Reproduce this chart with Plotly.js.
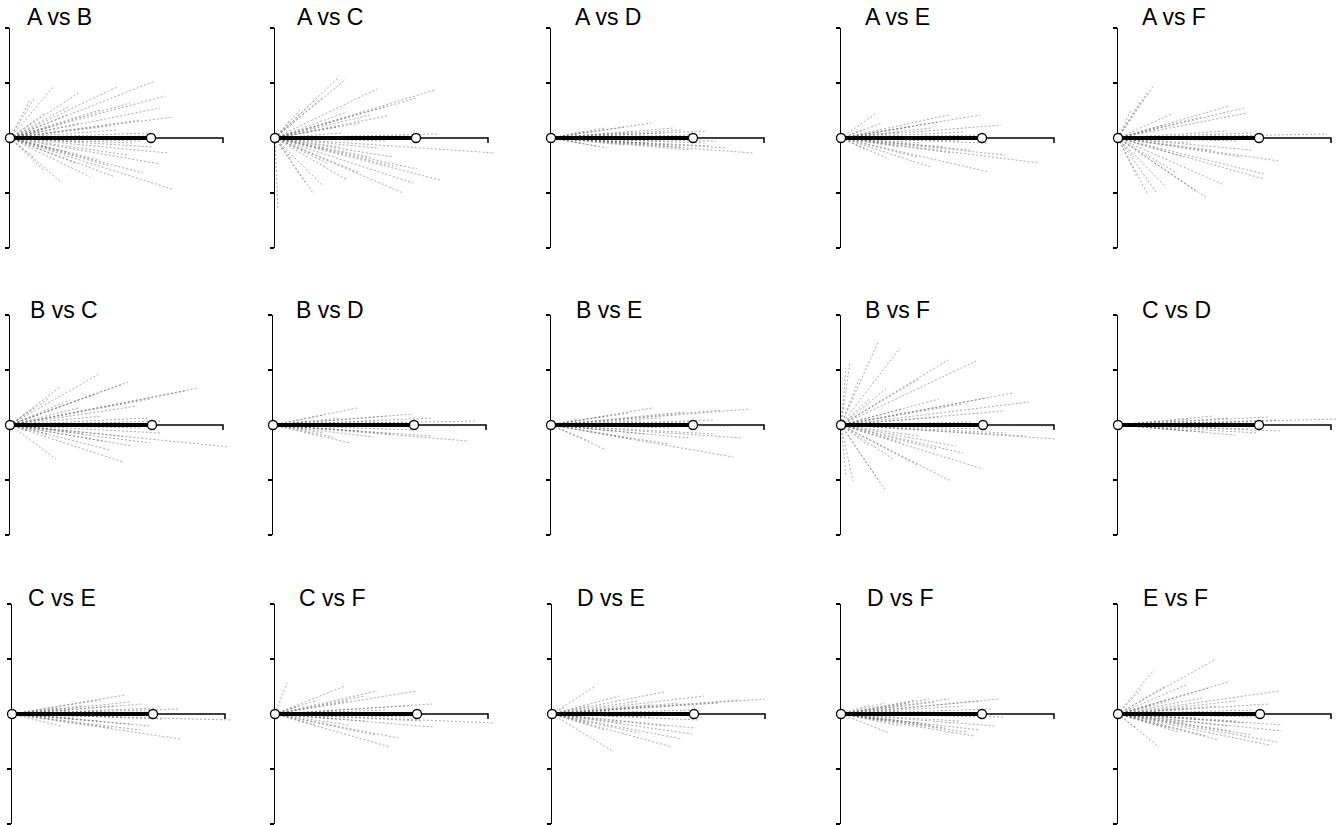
<!DOCTYPE html>
<html>
<head>
<meta charset="utf-8">
<script src="https://cdn.plot.ly/plotly-3.0.1.min.js"></script>
<style>html,body{margin:0;padding:0;background:#fff;}#chart{width:1340px;height:825px;}</style>
</head>
<body>
<div id="chart"></div>
<script>
// ---------- DATA (endpoints of individual vectors, same units on both axes) ----------
const PANEL_TITLES = ["A vs B","A vs C","A vs D","A vs E","A vs F","B vs C","B vs D","B vs E","B vs F","C vs D","C vs E","C vs F","D vs E","D vs F","E vs F"];
const MEAN = [1.41,1.41,1.42,1.41,1.41,1.42,1.41,1.42,1.42,1.41,1.41,1.42,1.42,1.41,1.42];
const Y_TICKS = [-1.1,-0.55,0,0.55,1.1];

const AB = [[0.44,0.52],[0.25,0.41],[0.20,0.38],[0.70,0.46],[1.07,0.51],[1.45,0.57],[1.55,0.42],[1.20,0.35],[1.50,0.30],[1.63,0.21],[0.90,0.28],[0.57,0.23],[1.30,0.18],[0.70,0.15],[0.40,0.11],[1.07,0.08],[1.40,0.05],[0.30,0.06],[1.00,0.12],[0.60,0.32],[0.35,0.25],[1.62,-0.51],[1.50,-0.26],[1.58,-0.15],[1.43,-0.09],[1.18,-0.17],[1.33,-0.35],[1.05,-0.39],[0.80,-0.39],[0.52,-0.45],[0.33,-0.32],[0.23,-0.19],[0.90,-0.22],[0.57,-0.14],[1.23,-0.05],[0.73,-0.04],[1.30,-0.03],[1.40,0.02],[1.00,-0.28],[0.65,-0.25]];
const AC = [[0.63,0.60],[0.71,0.59],[0.48,0.41],[0.40,0.38],[1.02,0.49],[1.60,0.48],[1.42,0.40],[1.12,0.32],[0.95,0.23],[0.72,0.26],[1.12,0.22],[0.62,0.11],[0.85,0.15],[1.62,0.04],[0.68,0.05],[0.25,0.28],[0.15,0.18],[1.30,0.02],[2.20,-0.15],[1.65,-0.42],[1.42,-0.31],[1.28,-0.55],[1.38,-0.45],[1.18,-0.19],[1.22,-0.29],[0.95,-0.19],[0.72,-0.42],[0.47,-0.47],[0.38,-0.55],[0.30,-0.44],[0.03,-0.72],[0.65,-0.09],[1.02,-0.10],[0.18,-0.22],[0.52,-0.25],[1.10,-0.03],[0.85,-0.35]];
const AD = [[1.00,0.15],[1.55,0.07],[1.23,0.10],[0.73,0.11],[0.54,0.10],[0.35,0.07],[0.84,0.06],[1.12,0.05],[0.59,0.05],[1.40,0.03],[0.90,0.02],[1.30,0.08],[2.02,-0.15],[1.76,-0.10],[1.55,-0.05],[1.30,-0.09],[0.56,-0.10],[0.31,-0.05],[0.95,-0.05],[1.19,-0.07],[0.73,-0.07],[1.65,-0.03],[1.10,-0.03],[1.40,-0.12],[0.45,-0.08],[1.60,-0.08]];
const AE = [[0.34,0.24],[1.08,0.23],[1.39,0.23],[1.60,0.13],[0.97,0.16],[0.69,0.11],[0.41,0.15],[0.90,0.10],[0.23,0.08],[1.22,0.06],[0.58,0.06],[1.40,0.03],[1.00,0.02],[1.98,-0.25],[1.48,-0.34],[1.11,-0.15],[1.64,-0.17],[0.48,-0.21],[0.26,-0.12],[0.76,-0.19],[1.29,-0.12],[1.04,-0.09],[0.58,-0.09],[1.46,-0.05],[0.90,-0.29],[1.20,-0.03],[0.80,-0.05]];
const AF = [[0.36,0.53],[0.29,0.45],[0.23,0.38],[0.54,0.24],[1.11,0.32],[1.26,0.30],[1.29,0.25],[0.83,0.21],[0.46,0.13],[1.09,0.07],[2.09,0.04],[1.33,0.05],[0.13,0.28],[1.00,0.02],[1.61,-0.23],[1.46,-0.36],[1.46,-0.41],[1.06,-0.47],[0.89,-0.60],[0.79,-0.54],[0.48,-0.49],[0.38,-0.54],[0.29,-0.55],[0.19,-0.39],[1.23,-0.19],[1.33,-0.12],[0.93,-0.12],[0.66,-0.19],[0.16,-0.19],[0.73,-0.05],[0.59,-0.35],[1.20,-0.03]];
const BC = [[0.89,0.51],[0.50,0.38],[1.18,0.43],[1.13,0.41],[1.88,0.37],[1.75,0.34],[0.84,0.31],[1.40,0.26],[1.27,0.19],[0.38,0.26],[0.24,0.17],[0.68,0.17],[1.37,0.07],[0.92,0.09],[1.10,0.02],[0.60,0.25],[1.50,0.04],[2.19,-0.22],[1.13,-0.37],[0.46,-0.34],[1.22,-0.21],[1.40,-0.18],[0.92,-0.16],[0.75,-0.09],[1.13,-0.11],[0.38,-0.09],[0.17,-0.06],[0.58,-0.06],[1.30,-0.03],[1.00,-0.25],[1.50,-0.08]];
const BD = [[0.84,0.17],[1.60,0.07],[1.13,0.09],[2.04,0.04],[0.68,0.07],[0.34,0.04],[1.03,0.04],[1.40,0.11],[0.50,0.10],[1.30,0.03],[1.95,-0.16],[1.58,-0.11],[0.77,-0.18],[1.20,-0.09],[0.51,-0.08],[0.86,-0.06],[1.85,-0.01],[0.34,-0.04],[1.00,-0.12],[1.40,-0.05],[0.60,-0.12]];
const BE = [[1.01,0.17],[1.99,0.16],[1.71,0.15],[1.34,0.13],[0.78,0.12],[1.63,0.05],[0.54,0.09],[1.11,0.07],[0.28,0.06],[1.40,0.03],[0.90,0.04],[1.82,-0.32],[1.91,-0.13],[1.38,-0.13],[1.64,-0.09],[0.53,-0.24],[0.38,-0.16],[0.94,-0.09],[0.61,-0.06],[1.18,-0.19],[1.78,-0.01],[1.20,-0.03],[0.80,-0.14]];
const BF = [[0.37,0.83],[0.59,0.77],[0.09,0.63],[0.05,0.57],[1.07,0.65],[1.35,0.64],[0.78,0.46],[1.72,0.32],[1.88,0.23],[1.45,0.27],[0.98,0.26],[1.22,0.21],[0.62,0.16],[0.45,0.36],[0.28,0.26],[0.18,0.46],[1.62,0.14],[2.12,-0.01],[1.00,0.08],[1.30,0.03],[2.15,-0.14],[1.42,-0.44],[1.10,-0.56],[1.22,-0.28],[1.15,-0.21],[0.45,-0.66],[0.38,-0.56],[0.12,-0.56],[0.05,-0.51],[0.95,-0.24],[0.62,-0.18],[1.65,-0.08],[1.85,-0.11],[0.78,-0.11],[0.28,-0.21],[0.52,-0.34],[0.78,-0.41],[1.40,-0.04]];
const CD = [[0.95,0.09],[2.20,0.06],[1.12,0.07],[0.72,0.06],[1.58,0.05],[0.38,0.04],[1.30,0.03],[0.85,0.03],[1.50,0.08],[1.17,-0.10],[1.63,-0.06],[0.88,-0.07],[0.55,-0.04],[1.32,-0.04],[1.00,-0.02],[1.40,-0.08],[0.70,-0.06]];
const CE = [[1.13,0.19],[1.18,0.12],[0.88,0.14],[1.68,0.05],[1.44,0.06],[0.71,0.08],[0.48,0.06],[1.04,0.08],[1.30,0.10],[0.60,0.04],[0.90,0.03],[1.40,0.02],[1.68,-0.25],[2.18,-0.06],[1.18,-0.10],[0.49,-0.12],[0.88,-0.07],[1.38,-0.12],[1.28,-0.16],[0.64,-0.04],[1.10,-0.03],[1.50,-0.05],[1.00,-0.14]];
const CF = [[0.12,0.31],[0.70,0.28],[1.02,0.23],[1.42,0.23],[1.57,0.10],[0.90,0.18],[0.40,0.13],[0.73,0.13],[1.30,0.08],[0.23,0.08],[1.10,0.04],[0.60,0.03],[2.20,-0.09],[1.58,-0.13],[1.23,-0.24],[1.15,-0.33],[1.00,-0.21],[0.73,-0.11],[0.40,-0.11],[1.47,-0.07],[0.90,-0.07],[1.30,-0.03],[0.60,-0.05]];
const DE = [[0.42,0.27],[1.12,0.22],[1.52,0.18],[2.13,0.15],[1.87,0.14],[0.67,0.18],[0.12,0.06],[1.00,0.09],[1.27,0.11],[0.87,0.13],[0.37,0.08],[1.67,0.11],[1.40,0.04],[0.60,0.03],[0.62,-0.38],[1.20,-0.33],[1.40,-0.20],[1.43,-0.14],[1.13,-0.12],[0.53,-0.16],[0.87,-0.19],[0.37,-0.09],[0.70,-0.09],[1.47,-0.06],[1.00,-0.03],[1.30,-0.25]];
const DF = [[1.58,0.15],[0.88,0.15],[1.08,0.15],[1.38,0.13],[0.44,0.11],[0.28,0.09],[0.68,0.11],[1.21,0.08],[0.95,0.12],[0.75,0.14],[1.50,0.05],[0.60,0.03],[1.33,-0.22],[1.54,-0.12],[1.39,-0.16],[0.48,-0.19],[1.04,-0.14],[0.78,-0.09],[0.44,-0.07],[1.63,-0.03],[1.18,-0.07],[0.90,-0.11],[1.25,-0.18],[0.60,-0.12]];
const EF = [[0.36,0.44],[0.98,0.55],[1.10,0.32],[1.61,0.23],[0.91,0.26],[0.68,0.29],[0.48,0.28],[0.24,0.26],[0.84,0.16],[1.18,0.13],[0.51,0.13],[1.34,0.04],[0.34,0.09],[1.00,0.08],[0.70,0.06],[1.50,0.10],[0.41,-0.33],[1.64,-0.17],[1.59,-0.28],[1.51,-0.31],[0.89,-0.22],[1.14,-0.17],[1.01,-0.26],[1.34,-0.21],[1.28,-0.09],[0.68,-0.09],[0.51,-0.14],[1.64,-0.11],[1.18,-0.07],[0.18,-0.14],[0.80,-0.04],[1.40,-0.03],[1.10,-0.12],[0.60,-0.18]];

const VECTORS = [AB,AC,AD,AE,AF,BC,BD,BE,BF,CD,CE,CF,DE,DF,EF];

// ---------- LAYOUT (page geometry in px) ----------
const W = 1340, H = 825;
const PX_PER_UNIT = 100;
const ORIGIN_X = [10,275,551,841,1118, 10,273,551,841,1118, 12,275,552,841,1118];
const ROW_TOP = [28,315,604];
const AXIS_H = 220;
const PANEL_W = 225;
const TITLE_X = [25,295,573,863,1140, 28,294,574,863,1140, 26,297,575,865,1141];
const TITLE_Y = [17,310,598];
const AXIS_END = 2.13;
const END_TICK = 0.05;

const traces = [];
const layout = {
  width: W, height: H,
  margin: {l:0, r:0, t:0, b:0},
  paper_bgcolor: '#fff', plot_bgcolor: 'rgba(0,0,0,0)',
  showlegend: false,
  shapes: [], annotations: []
};

VECTORS.forEach((vecs, i) => {
  const k = i + 1;
  const xa = k === 1 ? 'x' : 'x' + k;
  const ya = k === 1 ? 'y' : 'y' + k;
  const row = Math.floor(i / 5);
  const ox = ORIGIN_X[i];
  const right = Math.min(ox + PANEL_W, W);
  const top = ROW_TOP[row];
  const bottom = top + AXIS_H;

  layout['xaxis' + (k === 1 ? '' : k)] = {
    domain: [ox / W, right / W],
    range: [0, (right - ox) / PX_PER_UNIT],
    anchor: ya, visible: false, fixedrange: true
  };
  layout['yaxis' + (k === 1 ? '' : k)] = {
    domain: [1 - bottom / H, 1 - top / H],
    range: [-1.1, 1.1],
    anchor: xa, layer: 'below traces',
    showline: true, linecolor: '#000', linewidth: 1.3,
    ticks: 'outside', ticklen: 4, tickwidth: 1.2, tickcolor: '#000',
    tickmode: 'array', tickvals: Y_TICKS, showticklabels: false,
    showgrid: false, zeroline: false, fixedrange: true
  };

  // horizontal reference axis with end tick (drawn under the traces)
  layout.shapes.push({
    type: 'path', xref: xa, yref: ya,
    path: `M0,0 L${AXIS_END},0 L${AXIS_END},${-END_TICK}`,
    line: {color: '#000', width: 1.5}, layer: 'below'
  });

  // individual vectors (gray dashed)
  const gx = [], gy = [];
  vecs.forEach(p => { gx.push(0, p[0], null); gy.push(0, p[1], null); });
  traces.push({
    type: 'scatter', mode: 'lines', x: gx, y: gy, xaxis: xa, yaxis: ya,
    line: {color: 'rgba(105,105,105,0.75)', width: 0.75, dash: '2px,2px'},
    hoverinfo: 'skip'
  });

  // mean vector
  traces.push({
    type: 'scatter', mode: 'lines', x: [0, MEAN[i]], y: [0, 0], xaxis: xa, yaxis: ya,
    line: {color: '#000', width: 4}, hoverinfo: 'skip'
  });
  traces.push({
    type: 'scatter', mode: 'markers', x: [0, MEAN[i]], y: [0, 0], xaxis: xa, yaxis: ya,
    marker: {symbol: 'circle', size: 9, color: '#fff', line: {color: '#000', width: 1.3}},
    cliponaxis: false, hoverinfo: 'skip'
  });

  layout.annotations.push({
    text: PANEL_TITLES[i], xref: 'paper', yref: 'paper',
    x: TITLE_X[i] / W, y: 1 - TITLE_Y[row] / H,
    xanchor: 'left', yanchor: 'middle', showarrow: false,
    font: {family: 'Liberation Sans, Arial, sans-serif', size: 23, color: '#000'}
  });
});

Plotly.newPlot('chart', traces, layout, {staticPlot: true, displayModeBar: false});
</script>
</body>
</html>
